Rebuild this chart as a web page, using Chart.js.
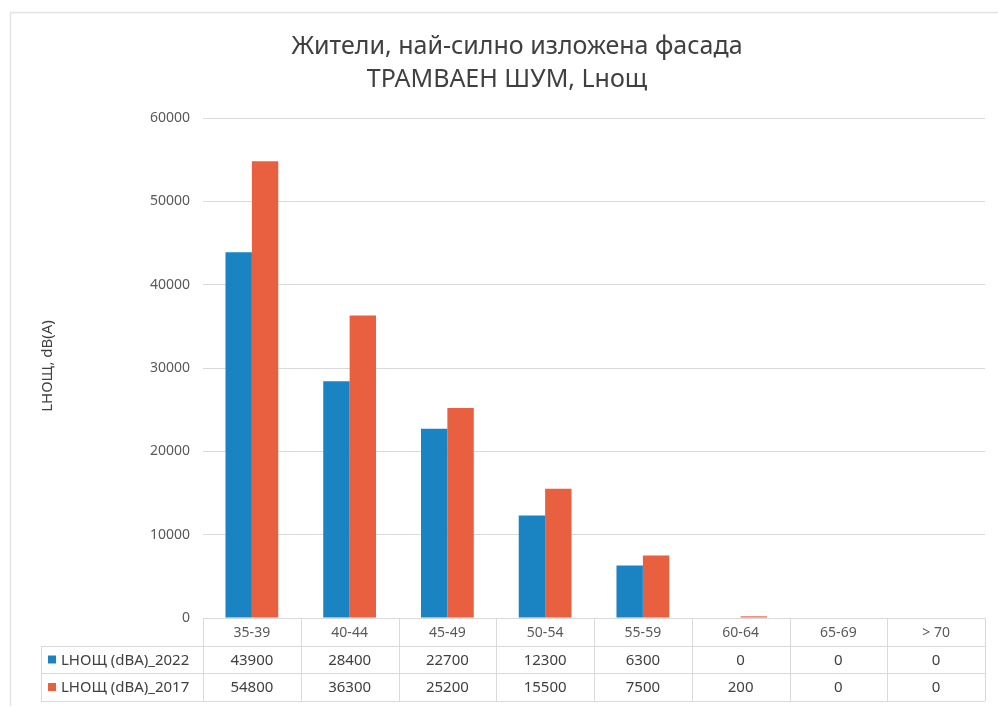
<!DOCTYPE html>
<html>
<head>
<meta charset="utf-8">
<script src="https://cdn.jsdelivr.net/npm/chart.js@4.4.1/dist/chart.umd.min.js"></script>
<style>
  html, body { margin: 0; padding: 0; background: #fff; }
  #wrap { width: 998px; height: 707px; position: relative; }
</style>
</head>
<body>
<div id="wrap"><canvas id="noiseChart" width="998" height="707"></canvas></div>
<script>
const categories = ['35-39', '40-44', '45-49', '50-54', '55-59', '60-64', '65-69', '> 70'];
const values2022 = [43900, 28400, 22700, 12300, 6300, 0, 0, 0];
const values2017 = [54800, 36300, 25200, 15500, 7500, 200, 0, 0];
const seriesNames = ['LНОЩ (dBA)_2022', 'LНОЩ (dBA)_2017'];
const titleLines = ['Жители, най-силно изложена фасада', 'ТРАМВАЕН ШУМ, Lнощ'];
const yTitle = 'LНОЩ, dB(A)';

const colors = ['#1A84C3', '#E8603F'];
const font = '"Noto Sans", "DejaVu Sans", sans-serif';
const gridColor = '#D9D9D9';

// title, y title, frame and data table under the plot
const tablePlugin = {
  id: 'tablePlugin',
  afterDraw(chart) {
    const c = chart.ctx;
    const area = chart.chartArea;
    const x = chart.scales.x;
    const colW = (area.right - area.left) / categories.length;
    const rowTop = area.bottom;
    const rowH = [28, 27, 28];
    const legendLeft = 41;

    c.save();
    // frame
    c.strokeStyle = '#E3E3E3';
    c.lineWidth = 1.5;
    c.beginPath();
    c.moveTo(10.5, 706);
    c.lineTo(10.5, 12.5);
    c.lineTo(998, 12.5);
    c.stroke();

    // title
    c.fillStyle = '#404040';
    c.textAlign = 'center';
    c.textBaseline = 'middle';
    c.font = '25px ' + font;
    c.fillText(titleLines[0], 517, 47);
    c.fillText(titleLines[1], 507, 80);

    // y title
    c.save();
    c.translate(48, 366);
    c.rotate(-Math.PI / 2);
    c.font = '15px ' + font;
    c.fillStyle = '#404040';
    c.fillText(yTitle, 0, 0);
    c.restore();

    // table lines
    c.strokeStyle = gridColor;
    c.lineWidth = 1;
    const y0 = rowTop;
    const y1 = y0 + rowH[0];
    const y2 = y1 + rowH[1];
    const y3 = y2 + rowH[2];
    c.beginPath();
    c.moveTo(area.left, y0 + 0.5); c.lineTo(area.right, y0 + 0.5);
    [y1, y2, y3].forEach(yy => { c.moveTo(legendLeft, yy + 0.5); c.lineTo(area.right, yy + 0.5); });
    for (let i = 0; i <= categories.length; i++) {
      const xx = Math.round(area.left + i * colW) + 0.5;
      c.moveTo(xx, y0); c.lineTo(xx, y3);
    }
    c.moveTo(legendLeft + 0.5, y1); c.lineTo(legendLeft + 0.5, y3);
    c.stroke();

    // header labels
    c.font = '14px ' + font;
    c.fillStyle = '#595959';
    categories.forEach((lab, i) => {
      c.fillText(lab, x.getPixelForValue(i), (y0 + y1) / 2 + 1);
    });

    // values
    c.font = '15px ' + font;
    c.fillStyle = '#404040';
    const rows = [values2022, values2017];
    rows.forEach((row, r) => {
      const ym = r === 0 ? (y1 + y2) / 2 : (y2 + y3) / 2;
      row.forEach((v, i) => {
        c.textAlign = 'center';
        c.fillText(String(v), x.getPixelForValue(i), ym + 1);
      });
      c.fillStyle = colors[r];
      c.fillRect(48, ym - 4, 8, 8);
      c.fillStyle = '#404040';
      c.textAlign = 'left';
      c.fillText(seriesNames[r], 61, ym + 1);
    });
    c.restore();
  }
};

const ctx = document.getElementById('noiseChart');

new Chart(ctx, {
  type: 'bar',
  data: {
    labels: categories,
    datasets: [{
      label: seriesNames[0],
      data: values2022,
      backgroundColor: colors[0],
      borderWidth: 0
    }, {
      label: seriesNames[1],
      data: values2017,
      backgroundColor: colors[1],
      borderWidth: 0
    }]
  },
  options: {
    responsive: false,
    animation: false,
    devicePixelRatio: 1,
    layout: { padding: { left: 0, right: 13, top: 118, bottom: 81 } },
    plugins: {
      legend: { display: false },
      title: { display: false },
      tooltip: { enabled: false }
    },
    datasets: { bar: { barPercentage: 1, categoryPercentage: 0.54 } },
    scales: {
      x: {
        ticks: { display: false },
        grid: { display: false },
        border: { display: false }
      },
      y: {
        min: 0,
        max: 60000,
        ticks: {
          stepSize: 10000,
          padding: 13,
          color: '#595959',
          font: { family: font, size: 14 },
          callback: v => String(v)
        },
        grid: { color: gridColor, drawTicks: false },
        border: { display: false },
        afterFit(scale) { scale.width = 203; }
      }
    }
  },
  plugins: [tablePlugin]
});
</script>
</body>
</html>
